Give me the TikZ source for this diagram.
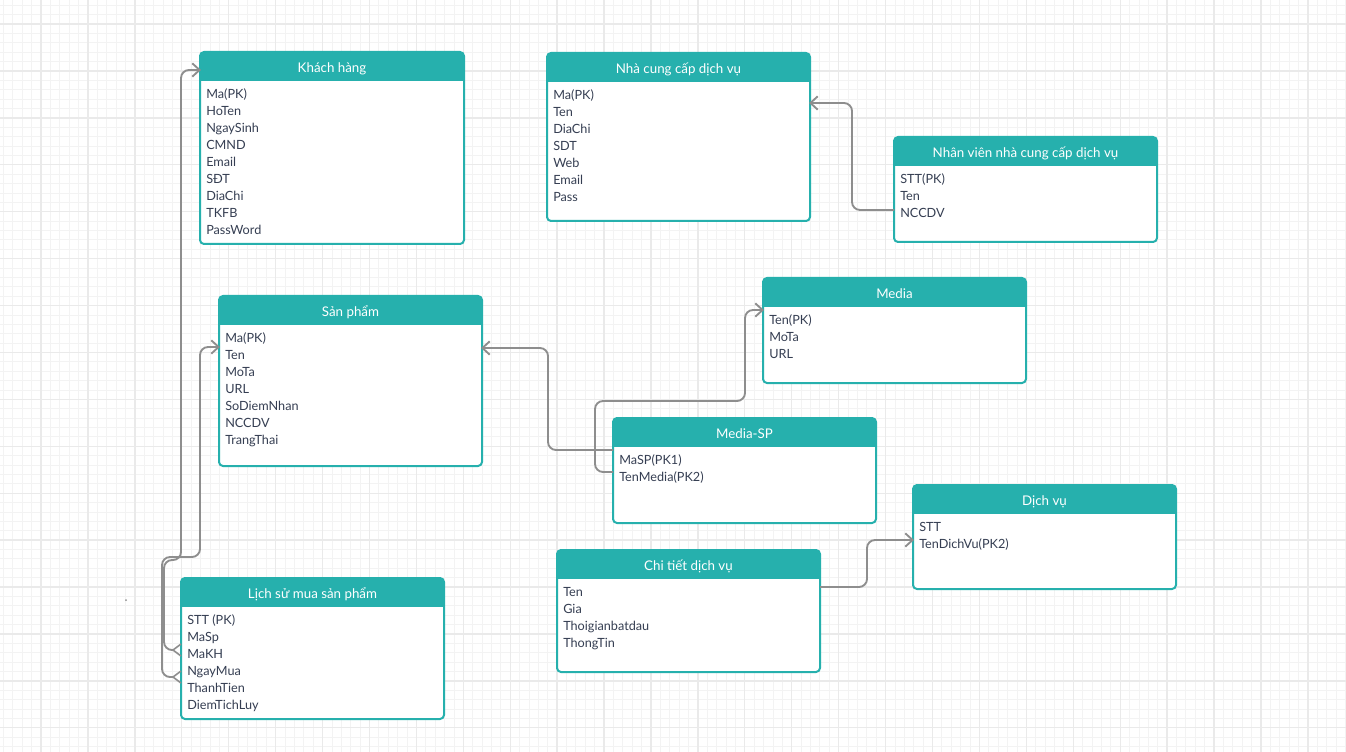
\documentclass[tikz,border=0pt]{standalone}
\usepackage{fontspec}
\setmainfont{Lato}
\usetikzlibrary{arrows.meta}
\definecolor{tealc}{HTML}{26B0AD}
\definecolor{txt}{HTML}{353E52}
\definecolor{conng}{HTML}{8E8E8E}
\definecolor{gmaj}{HTML}{EAEAEA}
\definecolor{gmin}{HTML}{F3F3F3}
\tikzset{
  entbox/.style={fill=white, draw=none, inner sep=0pt, outer sep=0pt, rounded corners=3pt},
  titletxt/.style={font=\fontsize{10}{12}\selectfont, text=white, inner sep=0pt, anchor=base},
  rowtxt/.style={font=\fontsize{9.5}{11}\selectfont, text=txt, inner sep=0pt, anchor=base west},
  conn/.style={draw=conng, line width=1.4pt, rounded corners=6pt},
  arr/.style={-{Straight Barb[length=5.5pt,width=10pt,line width=1.4pt]}},
  foot/.style={draw=conng, line width=1.2pt}
}
\newcommand{\ent}[7]{%
  \node[entbox, minimum width=#4*0.75pt, minimum height=#5*0.75pt, anchor=north west] (#1) at (#2,#3) {};
  \begin{scope}
    \clip[rounded corners=3pt] (#2,#3) rectangle ++(#4,#5);
    \fill[tealc] (#2,#3) rectangle ++(#4,29);
  \end{scope}
  \draw[tealc, line width=1.5pt, rounded corners=3pt] (#1.north west) rectangle (#1.south east);
  \node[titletxt] (#1-t) at ({#2+#4/2},{#3+20.5}) {#6};
  \foreach \r [count=\i] in {#7} \node[rowtxt] (#1-r\i) at ({#2+6},{#3+46.5+(\i-1)*17}) {\r};
}
\begin{document}
\begin{tikzpicture}[x=0.75pt,y=-0.75pt]
\useasboundingbox (0,0) rectangle (1346,752);
\fill[white] (0,0) rectangle (1346,752);
% grid
\foreach \i in {-4,...,140} \draw[gmin, line width=0.6pt] ({41+\i*9.384},0) -- ++(0,752);
\foreach \j in {-2,...,78} \draw[gmin, line width=0.6pt] (0,{24+\j*9.384}) -- ++(1346,0);
\foreach \i in {0,...,27} \draw[gmaj, line width=1pt] ({41+\i*46.92},0) -- ++(0,752);
\foreach \j in {0,...,15} \draw[gmaj, line width=1pt] (0,{24+\j*46.92}) -- ++(1346,0);
\fill[conng] (126,600) circle (1);

% entities
\ent{kh}{200}{52}{264}{192}{Khách hàng}{Ma(PK),HoTen,NgaySinh,CMND,Email,SĐT,DiaChi,TKFB,PassWord}
\ent{ncc}{547}{53}{263}{168}{Nhà cung cấp dịch vụ}{Ma(PK),Ten,DiaChi,SDT,Web,Email,Pass}
\ent{nv}{894}{137}{263}{105}{Nhân viên nhà cung cấp dịch vụ}{STT(PK),Ten,NCCDV}
\ent{sp}{219}{296}{263}{170}{Sản phẩm}{Ma(PK),Ten,MoTa,URL,SoDiemNhan,NCCDV,TrangThai}
\ent{med}{763}{278}{263}{105}{Media}{Ten(PK),MoTa,URL}
\ent{msp}{613}{418}{263}{105}{Media-SP}{MaSP(PK1),TenMedia(PK2)}
\ent{dv}{913}{485}{263}{104}{Dịch vụ}{STT,TenDichVu(PK2)}
\ent{ct}{557}{550}{263}{122}{Chi tiết dịch vụ}{Ten,Gia,Thoigianbatdau,ThongTin}
\ent{ls}{181}{578}{263}{141}{Lịch sử mua sản phẩm}{STT (PK),MaSp,MaKH,NgayMua,ThanhTien,DiemTichLuy}

% connector end points
\coordinate (lsA) at (173,650);
\coordinate (lsB) at (173,677);
\coordinate (khIn) at (201,70);
\coordinate (spIn) at (220,347);
\coordinate (mspA) at (613,450);
\coordinate (mspB) at (613,472);
\coordinate (spOut) at (481,348);
\coordinate (medIn) at (764,310);
\coordinate (nvOut) at (894,210);
\coordinate (nccIn) at (809,103);
\coordinate (ctOut) at (820,587);
\coordinate (dvIn) at (914,540);

% connectors
\draw[conn,arr] (lsA) -- (164,650) -- (164,560) -- (181,560) -- (181,70) -- (khIn);
\draw[foot] (181,644) -- (lsA) -- (181,656);
\draw[conn,arr] (lsB) -- (162,677) -- (162,557) -- (200,557) -- (200,347) -- (spIn);
\draw[foot] (181,671) -- (lsB) -- (181,683);
\draw[conn,arr] (mspA) -- (548,450) -- (548,348) -- (spOut);
\draw[conn,arr] (mspB) -- (595,472) -- (595,401) -- (745,401) -- (745,310) -- (medIn);
\draw[conn,arr] (nvOut) -- (852,210) -- (852,103) -- (nccIn);
\draw[conn,arr] (ctOut) -- (867,587) -- (867,540) -- (dvIn);
\end{tikzpicture}
\end{document}
